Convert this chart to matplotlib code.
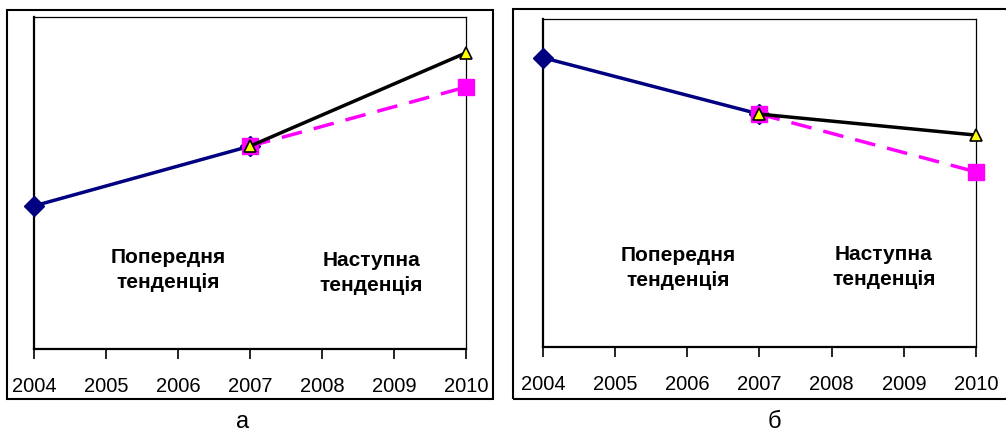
import matplotlib.pyplot as plt
from matplotlib.patches import Rectangle

plt.rcParams['font.family'] = ['Liberation Sans', 'DejaVu Sans']

years = [2004, 2005, 2006, 2007, 2008, 2009, 2010]

# panel а (growth)
prev_years = [2004, 2007]
next_years = [2007, 2010]
prev_a = [43.1, 61.1]
next_a = [61.1, 89.2]
expect_a = [61.1, 78.9]

# panel б (decline)
prev_b = [88.2, 71.0]
next_b = [71.0, 64.6]
expect_b = [71.0, 53.4]

fig = plt.figure(figsize=(10.06, 4.34), dpi=100)

# outer frames (pixels -> figure fraction)
W, H = 1006, 434
def frame(x0, y0, x1, y1):
    fig.patches.append(Rectangle((x0 / W, 1 - y1 / H), (x1 - x0) / W, (y1 - y0) / H,
                                 transform=fig.transFigure, fill=False,
                                 edgecolor='black', lw=1.5))
frame(7, 10, 493, 399)
frame(513, 9, 1010, 399)

def panel(pos, prev, nxt, exp, txt1_xy, txt2_xy, letter_xy, letter):
    ax = fig.add_axes(pos)
    ax.plot(prev_years, prev, color='#000080', lw=2.5, marker='D', ms=10,
            clip_on=False, zorder=3)
    ax.plot(next_years, exp, color='#ff00ff', lw=2.5, ls=(0, (6, 3.5)), marker='s',
            ms=12, mec='#ff00ff', clip_on=False, zorder=4)
    ax.plot(next_years, nxt, color='black', lw=2.5, marker='^', ms=8,
            mfc='#ffff00', mec='black', mew=1.2, clip_on=False, zorder=5)
    ax.set_xlim(2004, 2010)
    ax.set_ylim(0, 100)
    ax.set_xticks(years)
    ax.set_xticklabels([str(y) for y in years], fontsize=14.5)
    ax.set_yticks([])
    ax.tick_params(axis='x', direction='out', length=7, width=1.2, pad=13)
    for s in ['left', 'bottom']:
        ax.spines[s].set_linewidth(1.6)
    for s in ['top', 'right']:
        ax.spines[s].set_linewidth(0.9)
    fig.text(txt1_xy[0] / W, 1 - txt1_xy[1] / H, 'Попередня\nтенденція',
             ha='center', va='center', fontsize=15, fontweight='bold', linespacing=1.45)
    fig.text(txt2_xy[0] / W, 1 - txt2_xy[1] / H, 'Наступна\nтенденція',
             ha='center', va='center', fontsize=15, fontweight='bold', linespacing=1.45)
    fig.text(letter_xy[0] / W, 1 - letter_xy[1] / H, letter,
             ha='center', va='center', fontsize=17)
    return ax

panel([34 / W, 1 - 349 / H, 432 / W, 332 / H], prev_a, next_a, expect_a,
      (168, 270), (371, 273), (243, 422), 'а')
panel([543 / W, 1 - 347 / H, 433 / W, 328 / H], prev_b, next_b, expect_b,
      (678, 268), (884, 267), (774, 422), 'б')

fig.savefig('out.png', dpi=100)
